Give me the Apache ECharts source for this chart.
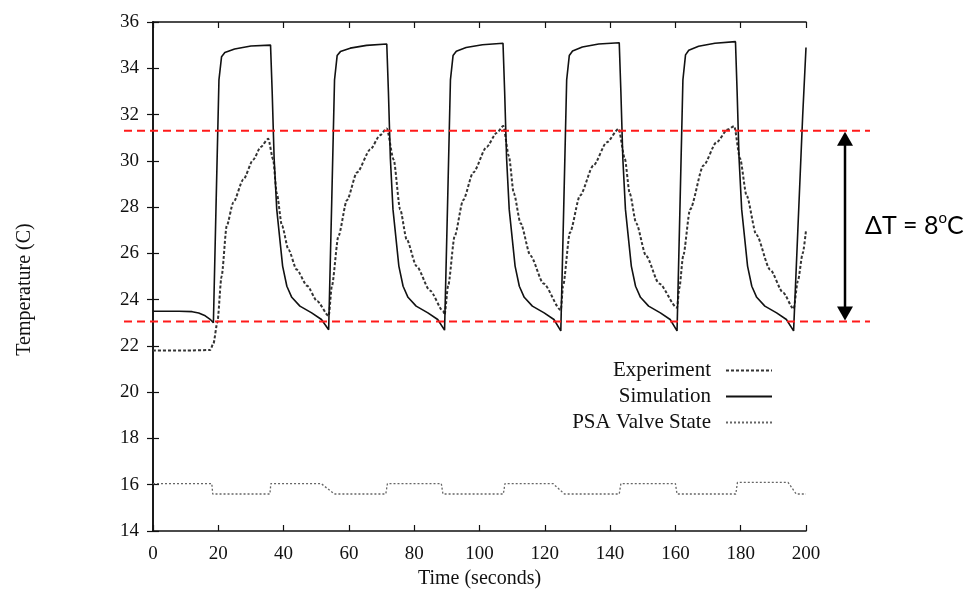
<!DOCTYPE html>
<html>
<head>
<meta charset="utf-8">
<script src="https://cdn.jsdelivr.net/npm/echarts/dist/echarts.min.js"></script>
<style>
html,body{margin:0;padding:0;background:#fff;}
#chart{width:975px;height:597px;}
</style>
</head>
<body>
<div id="chart"></div>
<script>
// ---- data (time in seconds, temperature in C) ----
var xTicks = [0, 20, 40, 60, 80, 100, 120, 140, 160, 180, 200];
var yTicks = [14, 16, 18, 20, 22, 24, 26, 28, 30, 32, 34, 36];

var seriesNames = ['Experiment', 'Simulation', 'PSA Valve State'];

var experiment = [
  [0,21.8],[10,21.8],[17.5,21.82],[18.5,22.1],[19.7,23.0],[21.0,25.0],[22.6,27.2],[24.6,28.2],[27.7,29.2],[30.7,30.05],[33.0,30.6],[35.3,30.95],
  [36.8,30.05],[37.9,28.6],[39.5,27.2],[41.5,26.16],[44.0,25.3],[47.2,24.6],[50.3,23.93],[53.8,23.3],
  [54.8,24.6],[56.8,26.75],[59.4,28.3],[62.5,29.5],[66.6,30.5],[69.5,31.1],[71.6,31.4],
  [73.7,30.05],[75.7,27.9],[77.7,26.6],[80.7,25.45],[84.8,24.4],[88.9,23.5],[89.3,23.35],
  [90.4,24.6],[92.4,26.75],[95.0,28.3],[98.1,29.5],[102.2,30.6],[105.2,31.2],[107.3,31.5],
  [109.0,30.2],[110.5,28.6],[112.6,27.3],[115.6,25.9],[119.6,24.7],[124.9,23.55],
  [125.6,24.6],[127.7,26.9],[130.8,28.5],[134.9,29.8],[139.0,30.8],[142.6,31.38],
  [144.5,30.1],[146.0,28.6],[148.0,27.3],[151.0,25.9],[155.0,24.7],[160.5,23.65],
  [161.2,24.5],[162.4,25.9],[164.5,27.9],[168.6,29.8],[172.6,30.8],[176.0,31.35],[178.0,31.5],
  [179.8,30.1],[181.8,28.5],[184.8,26.8],[189.0,25.3],[193.0,24.3],[196.2,23.6],
  [197.5,24.8],[199.0,26.0],[200,27.0]
];

var simulation = [
  [0,23.5],[8,23.5],[12,23.48],[14,23.42],[16,23.3],[17.5,23.15],[18.5,23.0],
  [19.3,28.0],[20.2,33.5],[21.0,34.5],[22.0,34.68],[25.0,34.83],[30.0,34.96],[36.0,35.0],
  [36.5,33.0],[37.1,30.1],[37.9,27.9],[39.7,25.45],[41.0,24.58],[42.5,24.1],[45.0,23.72],[48.6,23.43],[51.6,23.14],[53.8,22.7],
  [54.7,28.0],[55.6,33.5],[56.4,34.55],[57.4,34.72],[60.4,34.87],[65.4,34.99],[71.6,35.05],
  [72.1,33.0],[72.7,30.1],[73.5,27.9],[75.3,25.45],[76.6,24.58],[78.1,24.1],[80.6,23.72],[84.2,23.43],[87.2,23.14],[89.3,22.68],
  [90.2,28.0],[91.1,33.5],[91.9,34.55],[92.9,34.74],[95.9,34.9],[100.9,35.02],[107.2,35.08],
  [107.7,33.0],[108.3,30.1],[109.1,27.9],[110.9,25.45],[112.2,24.58],[113.7,24.1],[116.2,23.72],[119.8,23.43],[122.8,23.14],[124.9,22.65],
  [125.8,28.0],[126.7,33.5],[127.5,34.55],[128.5,34.75],[131.5,34.92],[136.5,35.05],[142.8,35.1],
  [143.3,33.0],[143.9,30.1],[144.7,27.9],[146.5,25.45],[147.8,24.58],[149.3,24.1],[151.8,23.72],[155.4,23.43],[158.4,23.14],[160.5,22.65],
  [161.4,28.0],[162.3,33.5],[163.1,34.58],[164.1,34.78],[167.1,34.95],[172.1,35.08],[178.4,35.15],
  [178.9,33.0],[179.5,30.1],[180.3,27.9],[182.1,25.45],[183.4,24.58],[184.9,24.1],[187.4,23.72],[191.0,23.43],[194.0,23.14],[196.2,22.65],
  [197.5,27.0],[199.0,32.0],[200,34.9]
];

var psaValve = [
  [0,16.05],[18.0,16.05],[18.3,15.6],[35.8,15.6],[36.1,16.05],[51.5,16.05],[55.5,15.6],[71.3,15.6],[71.8,16.05],
  [88.3,16.05],[88.8,15.6],[107.3,15.6],[107.8,16.05],[122.5,16.05],[126.0,15.6],[142.8,15.6],[143.3,16.05],
  [160.0,16.05],[160.5,15.6],[178.5,15.6],[179.0,16.1],[194.5,16.1],[197.0,15.6],[200,15.6]
];

// annotation levels (C)
var refLevels = [31.3, 23.05];
var deltaLabel = '8';

// ---- chart ----
var chart = echarts.init(document.getElementById('chart'), null, {renderer: 'canvas'});
var serif = 'Liberation Serif';
var axisCommon = {
  type: 'value',
  axisLine: {show: true, lineStyle: {color: '#111', width: 1.6}},
  axisTick: {show: true, inside: true, length: 6, lineStyle: {color: '#111', width: 1.2}},
  splitLine: {show: false}
};
function legendAt(name, top) {
  return {
    data: [name], align: 'right', right: 202, top: top,
    itemWidth: 46, itemHeight: 12, itemGap: 0, padding: 0,
    itemStyle: {opacity: 0},
    textStyle: {fontFamily: serif, fontSize: 21, color: '#111', padding: [0, 10, 0, 0]}
  };
}
var option = {
  animation: false,
  backgroundColor: '#fff',
  grid: {left: 153, right: 169, top: 22, bottom: 66},
  xAxis: [
    Object.assign({}, axisCommon, {
      position: 'bottom', min: xTicks[0], max: xTicks[xTicks.length - 1], interval: xTicks[1] - xTicks[0],
      name: 'Time (seconds)', nameLocation: 'middle', nameGap: 36,
      nameTextStyle: {fontFamily: serif, fontSize: 20, color: '#111'},
      axisLabel: {margin: 14, fontFamily: serif, fontSize: 19, color: '#111'}
    }),
    Object.assign({}, axisCommon, {
      position: 'top', min: xTicks[0], max: xTicks[xTicks.length - 1], interval: xTicks[1] - xTicks[0],
      axisLabel: {show: false}
    })
  ],
  yAxis: [
    Object.assign({}, axisCommon, {
      position: 'left', min: yTicks[0], max: yTicks[yTicks.length - 1], interval: yTicks[1] - yTicks[0],
      name: 'Temperature (C)', nameLocation: 'middle', nameGap: 118, nameRotate: 90,
      nameTextStyle: {fontFamily: serif, fontSize: 20, color: '#111', padding: [0, 26, 0, 0]},
      axisLabel: {margin: 14, fontFamily: serif, fontSize: 19, color: '#111'}
    }),
    Object.assign({}, axisCommon, {
      position: 'right', min: yTicks[0], max: yTicks[yTicks.length - 1], interval: yTicks[1] - yTicks[0],
      axisLabel: {show: false}
    })
  ],
  legend: [legendAt(seriesNames[0], 360), legendAt(seriesNames[1], 386), legendAt(seriesNames[2], 412)],
  series: [
    {
      name: seriesNames[0], type: 'line', data: experiment, symbol: 'none', showSymbol: false,
      smooth: 0.25, smoothMonotone: 'x',
      lineStyle: {color: '#333', width: 2, type: [3, 2]}, itemStyle: {color: '#333'}, z: 3
    },
    {
      name: seriesNames[1], type: 'line', data: simulation, symbol: 'none', showSymbol: false,
      lineStyle: {color: '#111', width: 1.6, type: 'solid'}, itemStyle: {color: '#111'}, z: 4
    },
    {
      name: seriesNames[2], type: 'line', data: psaValve, symbol: 'none', showSymbol: false,
      lineStyle: {color: '#666', width: 1.3, type: [2, 2]}, itemStyle: {color: '#666'}, z: 2
    }
  ]
};
chart.setOption(option);

// annotations positioned from the axis scale
var yTop = chart.convertToPixel({yAxisIndex: 0}, refLevels[0]);
var yBot = chart.convertToPixel({yAxisIndex: 0}, refLevels[1]);
var arrowX = 845;
var redLine = {stroke: '#ff1a1a', lineWidth: 2, lineDash: [8, 5]};
chart.setOption({
  graphic: [
    {type: 'line', shape: {x1: 124, y1: yTop, x2: 870, y2: yTop}, style: redLine, z: 100},
    {type: 'line', shape: {x1: 124, y1: yBot, x2: 870, y2: yBot}, style: redLine, z: 100},
    {type: 'line', shape: {x1: arrowX, y1: yTop + 12, x2: arrowX, y2: yBot - 12}, style: {stroke: '#000', lineWidth: 2.5}, z: 101},
    {type: 'polygon', shape: {points: [[arrowX, yTop + 1], [arrowX - 8, yTop + 15], [arrowX + 8, yTop + 15]]}, style: {fill: '#000'}, z: 101},
    {type: 'polygon', shape: {points: [[arrowX, yBot - 1], [arrowX - 8, yBot - 15], [arrowX + 8, yBot - 15]]}, style: {fill: '#000'}, z: 101},
    {
      type: 'text', left: 865, top: (yTop + yBot) / 2 - 16, z: 101,
      style: {
        text: '{a|\u0394T = ' + deltaLabel + '}{s|o}{a|C}',
        rich: {
          a: {fontFamily: 'Lato', fontSize: 25, fill: '#000', lineHeight: 32},
          s: {fontFamily: 'Lato', fontSize: 15, fill: '#000', lineHeight: 32, verticalAlign: 'top', padding: [0, 0, 12, 0]}
        }
      }
    }
  ]
});
</script>
</body>
</html>
